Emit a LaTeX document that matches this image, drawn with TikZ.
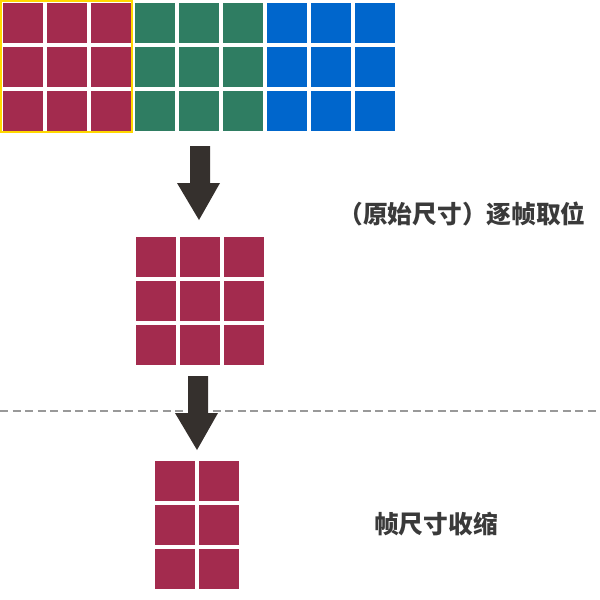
\documentclass[tikz,border=0pt]{standalone}
\usepackage{fontspec}
\newfontfamily\cjk{Noto Sans CJK SC}
\definecolor{crim}{HTML}{A32B4E}
\definecolor{grn}{HTML}{2F7D62}
\definecolor{blu}{HTML}{0066CC}
\definecolor{arr}{HTML}{35302D}
\definecolor{ylw}{HTML}{FFD800}
\definecolor{txt}{HTML}{3A3A3A}
\definecolor{dash}{HTML}{999999}
\tikzset{
  cell/.style={fill=#1, draw=none, minimum size=40pt, inner sep=0pt, outer sep=0pt},
  blockarrow/.style={fill=arr, draw=none},
  caption/.style={font=\cjk\bfseries\fontsize{24.7}{24.7}\selectfont, text=txt, inner sep=0pt},
  divider/.style={draw=dash, line width=2.6pt, dash pattern=on 8pt off 4.5pt}
}
\begin{document}
\begin{tikzpicture}[x=1pt,y=-1pt]
\useasboundingbox (0,0) rectangle (600,600);
% top strip
\foreach \c/\col in {0/crim,1/crim,2/crim,3/grn,4/grn,5/grn,6/blu,7/blu,8/blu}{
  \foreach \r in {0,1,2}{
    \node[cell=\col] (t-\c-\r) at ({23+44*\c},{23+44*\r}) {};
  }
}
\draw[ylw, line width=2.2pt] (1.2,1.2) rectangle (132.2,132.2);
% arrow 1
\fill[blockarrow] (190,146) -- (210,146) -- (210,183) -- (220,183) -- (199,220) -- (177,183) -- (190,183) -- cycle;
% middle grid
\foreach \c in {0,1,2}{
  \foreach \r in {0,1,2}{
    \node[cell=crim] (m-\c-\r) at ({156+44*\c},{257+44*\r}) {};
  }
}
% divider
\coordinate (dl) at (0,411);
\coordinate (dr) at (600,411);
\draw[divider] (dl) -- (dr);
% arrow 2
\fill[blockarrow] (188,376) -- (208,376) -- (208,413) -- (218,413) -- (197,450) -- (175,413) -- (188,413) -- cycle;
% bottom grid
\foreach \c in {0,1}{
  \foreach \r in {0,1,2}{
    \node[cell=crim] (b-\c-\r) at ({175+44*\c},{481+44*\r}) {};
  }
}
% captions
\node[caption] (cap1) at (462,214) {（原始尺寸）逐帧取位};
\node[caption] (cap2) at (436,524) {帧尺寸收缩};
\end{tikzpicture}
\end{document}
